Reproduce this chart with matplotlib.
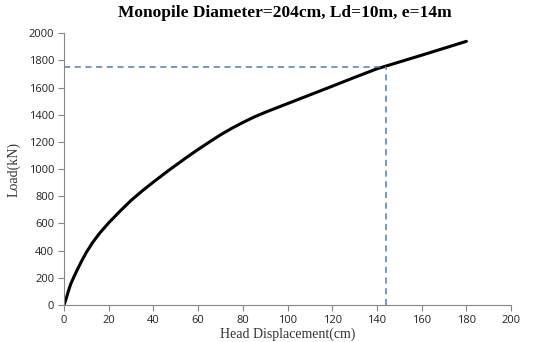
import matplotlib
matplotlib.use('Agg')
import matplotlib.pyplot as plt

# head displacement (cm) vs load (kN)
disp = [0, 1, 2, 3, 4.5, 6, 8, 10, 13, 16, 20, 25, 30, 35, 40, 47, 55, 60,
        66, 70, 75, 80, 85, 90, 100, 110, 120, 130, 140, 145, 150, 160, 170, 180]
load = [0, 50, 105, 155, 210, 262, 328, 388, 465, 530, 605, 690, 770, 840,
        905, 993, 1088, 1145, 1210, 1252, 1300, 1343, 1383, 1418, 1482, 1546,
        1610, 1675, 1738, 1763, 1788, 1838, 1889, 1940]

mark_x = 144
mark_y = 1750

title = 'Monopile Diameter=204cm, Ld=10m, e=14m'

fig = plt.figure(figsize=(5.38, 3.42), dpi=100)
ax = fig.add_axes([0.119, 0.108, 0.831, 0.795])

ax.plot(disp, load, color='black', lw=2.2, solid_capstyle='round',
        solid_joinstyle='round')
ax.plot([0, mark_x], [mark_y, mark_y], color='#4a7ebb', lw=1.1, ls=(0, (4, 3)))
ax.plot([mark_x, mark_x], [0, mark_y], color='#4a7ebb', lw=1.1, ls=(0, (4, 3)))

ax.set_xlim(0, 200)
ax.set_ylim(0, 2000)
ax.set_xticks(range(0, 201, 20))
ax.set_yticks(range(0, 2001, 200))

for s in ['top', 'right']:
    ax.spines[s].set_visible(False)
for s in ['left', 'bottom']:
    ax.spines[s].set_color('#868686')
    ax.spines[s].set_linewidth(0.8)
ax.tick_params(direction='out', length=4, width=0.8, color='#868686',
               labelsize=8, labelcolor='#222222', pad=3)
for lab in ax.get_xticklabels() + ax.get_yticklabels():
    lab.set_family('Open Sans')

ax.set_xlabel('Head Displacement(cm)', family='Liberation Serif', fontsize=10,
              labelpad=1, color='#333333')
ax.set_ylabel('Load(kN)', family='Liberation Serif', fontsize=10,
              labelpad=6, color='#333333')
fig.suptitle(title, family='Liberation Serif', fontweight='bold', fontsize=12.5,
             x=0.53, y=0.985)

plt.savefig('out.png', dpi=100)
